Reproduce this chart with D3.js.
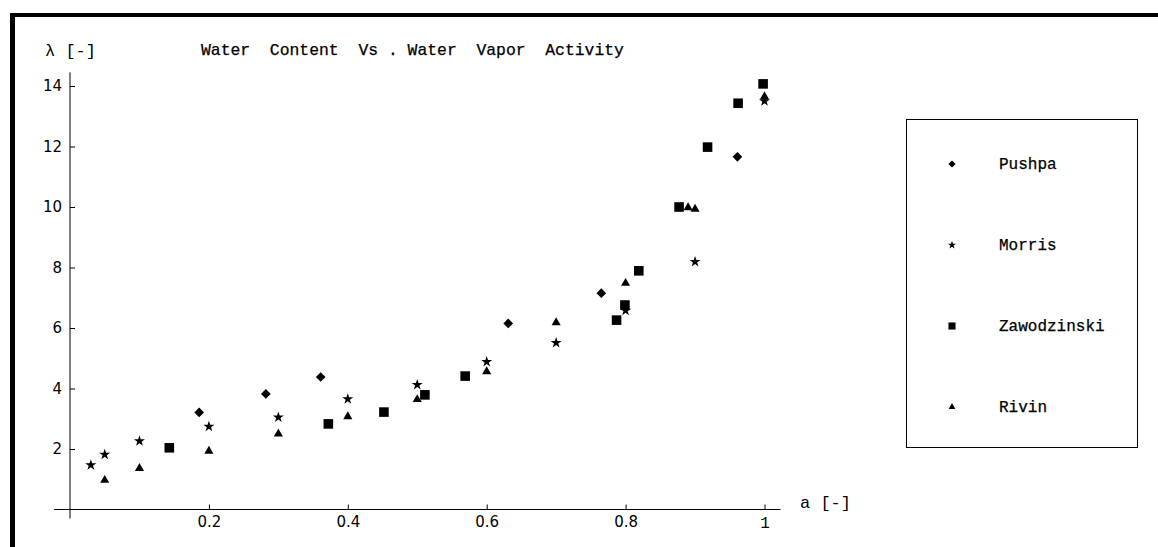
<!DOCTYPE html>
<html>
<head>
<meta charset="utf-8">
<script src="https://cdn.jsdelivr.net/npm/d3@7"></script>
<style>
  body { margin: 0; background: #fff; }
  svg { display: block; }
  .mono { font-family: "Liberation Mono", "DejaVu Sans Mono", monospace; fill: #000; white-space: pre; stroke: #000; stroke-width: 0.25px; }
  .tick text { font-family: "DejaVu Sans", sans-serif; font-size: 15px; fill: #000; }
</style>
</head>
<body>
<svg id="chart" width="1158" height="547"></svg>
<script>
const svg = d3.select("#chart");

// values: a = water vapor activity, lambda = water content
const pushpaA = [0.186, 0.282, 0.361, 0.631, 0.765, 0.961];
const pushpaL = [3.21, 3.82, 4.38, 6.15, 7.15, 11.66];

const morrisA = [0.03, 0.05, 0.1, 0.2, 0.3, 0.4, 0.5, 0.6, 0.7, 0.8, 0.9, 1.0];
const morrisL = [1.47, 1.82, 2.26, 2.74, 3.05, 3.65, 4.12, 4.88, 5.51, 6.58, 8.19, 13.5];

const zawodzinskiA = [0.143, 0.372, 0.452, 0.511, 0.569, 0.787, 0.799, 0.819, 0.877, 0.918, 0.962, 0.998];
const zawodzinskiL = [2.04, 2.83, 3.22, 3.79, 4.41, 6.26, 6.76, 7.89, 10.0, 11.98, 13.43, 14.07];

const rivinA = [0.05, 0.1, 0.2, 0.3, 0.4, 0.5, 0.6, 0.7, 0.8, 0.89, 0.9, 1.0];
const rivinL = [0.97, 1.36, 1.93, 2.5, 3.07, 3.64, 4.56, 6.18, 7.48, 9.98, 9.93, 13.65];

const seriesNames = ["Pushpa", "Morris", "Zawodzinski", "Rivin"];
const xMajor = [0.2, 0.4, 0.6, 0.8, 1];
const yMajor = [2, 4, 6, 8, 10, 12, 14];

const symbolTypes = {
  Pushpa: { type: d3.symbolDiamond2, size: 60 },
  Morris: { type: d3.symbolStar, size: 38 },
  Zawodzinski: { type: d3.symbolSquare, size: 92 },
  Rivin: { type: d3.symbolTriangle, size: 36 }
};

const series = [
  { name: "Pushpa", a: pushpaA, l: pushpaL },
  { name: "Morris", a: morrisA, l: morrisL },
  { name: "Zawodzinski", a: zawodzinskiA, l: zawodzinskiL },
  { name: "Rivin", a: rivinA, l: rivinL }
];

const x = d3.scaleLinear().domain([0, 1]).range([70, 764.5]);
const y = d3.scaleLinear().domain([0, 14]).range([509.5, 86]);

// frame (thick left and top edges of the scanned page)
svg.append("rect").attr("x", 10).attr("y", 13).attr("width", 5).attr("height", 534).attr("fill", "#000");
svg.append("rect").attr("x", 10).attr("y", 13).attr("width", 1148).attr("height", 4).attr("fill", "#000");

// x axis
const minorX = d3.range(0.05, 1.0001, 0.05).filter(v => !xMajor.some(m => Math.abs(m - v) < 1e-6));
const gx = svg.append("g").attr("transform", `translate(0,${y(0)})`);
gx.call(d3.axisBottom(x).tickValues(minorX).tickSize(-3).tickFormat(""));
gx.call(d3.axisBottom(x).tickValues(xMajor).tickSize(-5).tickPadding(7).tickFormat(d => d === 1 ? "1" : d3.format(".1f")(d)));
gx.selectAll(".domain").remove();
gx.append("line").attr("x1", x(-0.023)).attr("x2", x(1.023)).attr("stroke", "#000");
gx.selectAll(".tick text").filter(d => d === 1)
  .style("font-family", "'Liberation Mono', monospace").style("font-size", "16px");

// y axis
const minorY = d3.range(0.5, 14.001, 0.5).filter(v => !yMajor.includes(v));
const gy = svg.append("g").attr("transform", `translate(${x(0)},0)`);
gy.call(d3.axisLeft(y).tickValues(minorY).tickSize(-3).tickFormat(""));
gy.call(d3.axisLeft(y).tickValues(yMajor).tickSize(-5).tickPadding(8));
gy.selectAll(".domain").remove();
gy.append("line").attr("y1", y(14.45)).attr("y2", y(-0.3)).attr("stroke", "#000");

// axis names and title
svg.append("text").attr("class", "mono").attr("x", 45).attr("y", 56)
  .style("font-size", "17px").style("stroke-width", "0px").text("λ [-]");
svg.append("text").attr("class", "mono").attr("x", 800).attr("y", 508)
  .style("font-size", "17px").style("stroke-width", "0px").text("a [-]");
svg.append("text").attr("class", "mono").attr("x", 201).attr("y", 55)
  .style("font-size", "16.4px").text("Water  Content  Vs . Water  Vapor  Activity");

// points
series.forEach(s => {
  const sym = d3.symbol().type(symbolTypes[s.name].type).size(symbolTypes[s.name].size);
  svg.append("g").selectAll("path")
    .data(s.a.map((a, i) => [a, s.l[i]]))
    .join("path")
    .attr("d", sym)
    .attr("transform", d => `translate(${x(d[0])},${y(d[1])})`)
    .attr("fill", "#000");
});

// legend
const legend = svg.append("g");
legend.append("rect").attr("x", 906.5).attr("y", 119.5).attr("width", 231).attr("height", 328)
  .attr("fill", "#fff").attr("stroke", "#000");

const legendY = d3.scalePoint().domain(seriesNames).range([164, 407]);
const items = legend.selectAll("g.item").data(seriesNames).join("g")
  .attr("class", "item")
  .attr("transform", d => `translate(0,${legendY(d)})`);

items.append("path")
  .attr("d", d => d3.symbol().type(symbolTypes[d].type).size(symbolTypes[d].size * 0.55)())
  .attr("transform", "translate(952,0)")
  .attr("fill", "#000");

items.append("text").attr("class", "mono").attr("x", 999).attr("y", 5)
  .style("font-size", "16px").text(d => d);
</script>
</body>
</html>
